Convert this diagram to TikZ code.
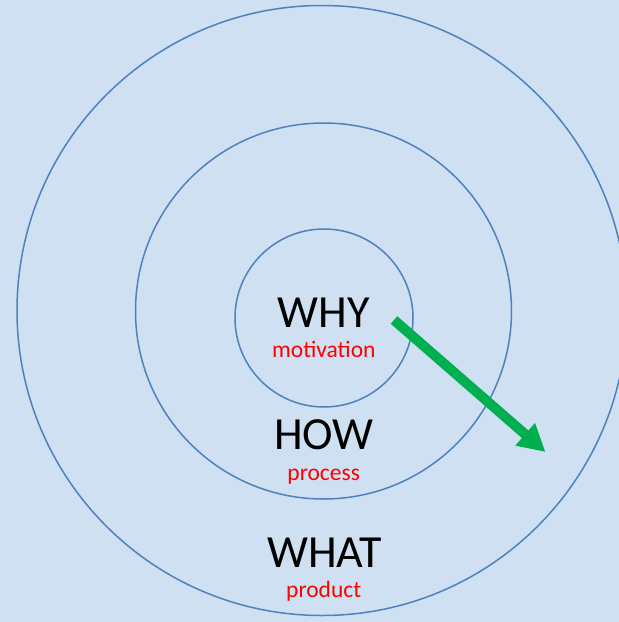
\documentclass[tikz,border=0pt]{standalone}
\usepackage{fontspec}
\setmainfont{Carlito}
\usetikzlibrary{arrows.meta}
\definecolor{bg}{HTML}{CFE0F2}
\definecolor{ring}{HTML}{4F81BD}
\definecolor{arrowgreen}{HTML}{00B050}
\tikzset{
  ringline/.style={draw=ring, line width=1.5pt},
  big/.style={anchor=base, font=\fontsize{46}{46}\selectfont, text=black, inner sep=0pt},
  small/.style={anchor=base, font=\fontsize{23.5}{23.5}\selectfont, text=red, inner sep=0pt},
}
\begin{document}
\begin{tikzpicture}[x=1pt,y=-1pt]
\useasboundingbox (0,0) rectangle (619,622);
\clip (0,0) rectangle (619,622);
\fill[bg] (0,0) rectangle (619,622);
\coordinate (c1) at (324,318);
\coordinate (c2) at (323.5,311);
\coordinate (c3) at (322,310.5);
\draw[ringline] (c3) circle[radius=305];
\draw[ringline] (c2) circle[radius=188];
\draw[ringline] (c1) circle[radius=89];
\node[big] (why) at (323.8,327) {WHY};
\node[small] (mot) at (323.8,357) {motivation};
\node[big] (how) at (324,449) {HOW};
\node[small] (proc) at (323.7,480) {process};
\node[big] (what) at (324.7,567) {WHAT};
\node[small] (prod) at (323.7,597) {product};
\coordinate (tail) at (394,320);
\coordinate (tip) at (545.5,452);
\draw[arrowgreen, line width=10pt, -{Triangle[length=27pt,width=28pt]}] (tail) -- (tip);
\end{tikzpicture}
\end{document}
